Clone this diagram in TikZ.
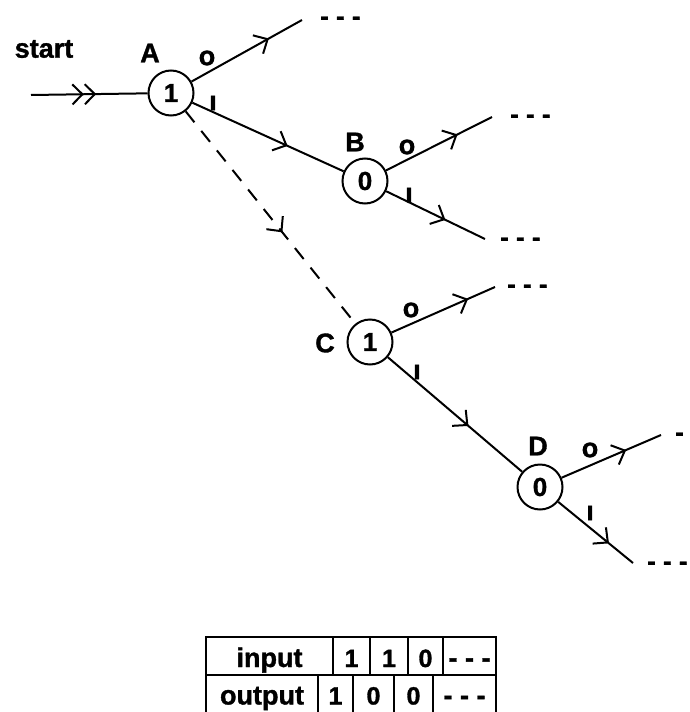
\documentclass[tikz,border=0pt]{standalone}
\usepackage{fontspec}
\setmainfont{Liberation Sans}[BoldFeatures={FakeBold=1.2}]
\usetikzlibrary{arrows.meta,decorations.markings}

\tikzset{
  x=1pt, y=-1pt,
  lbl/.style={inner sep=0pt, font=\fontsize{27}{31}\selectfont\bfseries},
  dots/.style={inner sep=0pt, anchor=base west, font=\fontsize{26}{30}\selectfont\bfseries},
  state/.style={circle, draw, line width=2pt, minimum size=45pt, inner sep=0pt,
                font=\fontsize{26}{30}\selectfont\bfseries},
  edge/.style={line width=2pt},
  midarrow/.style={postaction={decorate}, decoration={markings,
      mark=at position #1 with {\arrow{Straight Barb[length=11pt,width=21pt]}}}},
  dblarrow/.style={postaction={decorate}, decoration={markings,
      mark=at position #1 with {\arrow{Straight Barb[length=10pt,width=20pt] Straight Barb[length=10pt,width=20pt]}}}},
  cell/.style={draw, line width=2pt, rectangle, inner sep=0pt},
  toprow/.style={cell, minimum height=38pt, text height=22pt, text depth=0pt},
  botrow/.style={cell, minimum height=42pt, text height=17pt, text depth=0pt},
  word/.style={font=\fontsize{27}{31}\selectfont\bfseries},
  digit/.style={font=\fontsize{25}{29}\selectfont\bfseries},
}

\begin{document}
\begin{tikzpicture}
\useasboundingbox (0,0) rectangle (689,712);

% states
\node[state] (A) at (171,93) {1};
\node[state] (B) at (365,181) {0};
\node[state] (C) at (370,342) {1};
\node[state] (D) at (540,487) {0};

% state names and start label
\node[lbl] (start) at (44,49) {start};
\node[lbl] (nA) at (150,53) {A};
\node[lbl] (nB) at (355,142) {B};
\node[lbl] (nC) at (325,343) {C};
\node[lbl] (nD) at (538,446) {D};

% loose ends of the branches
\coordinate (s)  at (31,95);
\coordinate (a0) at (302,20);
\coordinate (b0) at (492,117);
\coordinate (b1) at (485,239);
\coordinate (c0) at (495,287);
\coordinate (d0) at (661,435);
\coordinate (d1) at (633,563);

% transitions
\draw[edge, dblarrow=0.56] (s) -- (A);
\draw[edge, midarrow=0.70] (A) -- (a0);
\draw[edge, midarrow=0.63] (A) -- (B);
\draw[edge, midarrow=0.675] (B) -- (b0);
\draw[edge, midarrow=0.60] (B) -- (b1);
\draw[edge, midarrow=0.74] (C) -- (c0);
\draw[edge, midarrow=0.60] (C) -- (D);
\draw[edge, midarrow=0.65] (D) -- (d0);
\draw[edge, midarrow=0.68] (D) -- (d1);
\draw[edge, dash pattern=on 14pt off 11pt, midarrow=0.57] (A) -- (C);

% branch labels
\node[lbl] (lA0) at (207,58) {o};
\node[lbl] (lA1) at (213,103) {ı};
\node[lbl] (lB0) at (407,147) {o};
\node[lbl] (lB1) at (409,195) {ı};
\node[lbl] (lC0) at (411,310) {o};
\node[lbl] (lC1) at (417,372) {ı};
\node[lbl] (lD0) at (590,450) {o};
\node[lbl] (lD1) at (590,513) {ı};

% continuation marks
\node[dots] (ea0) at (320,25) {- - -};
\node[dots] (eb0) at (510,123) {- - -};
\node[dots] (eb1) at (500,246) {- - -};
\node[dots] (ec0) at (507,293) {- - -};
\node[dots] (ed0) at (675,441) {-};
\node[dots] (ed1) at (647,570) {- - -};

% input / output table
\node[toprow, word,  minimum width=127pt] (tin)  at (269.5,656) {input};
\node[toprow, digit, minimum width=37pt]  (ti1)  at (351.5,656) {1};
\node[toprow, digit, minimum width=38pt]  (ti2)  at (389,656)   {1};
\node[toprow, digit, minimum width=35pt]  (ti3)  at (425.5,656) {0};
\node[toprow, word,  minimum width=53pt]  (ti4)  at (469.5,656) {- - -};

\node[botrow, word,  minimum width=112pt] (tout) at (262,696)   {output};
\node[botrow, digit, minimum width=35pt]  (to1)  at (335.5,696) {1};
\node[botrow, digit, minimum width=41pt]  (to2)  at (373.5,696) {0};
\node[botrow, digit, minimum width=39pt]  (to3)  at (413.5,696) {0};
\node[botrow, word,  minimum width=63pt]  (to4)  at (464.5,696) {- - -};
\end{tikzpicture}
\end{document}
